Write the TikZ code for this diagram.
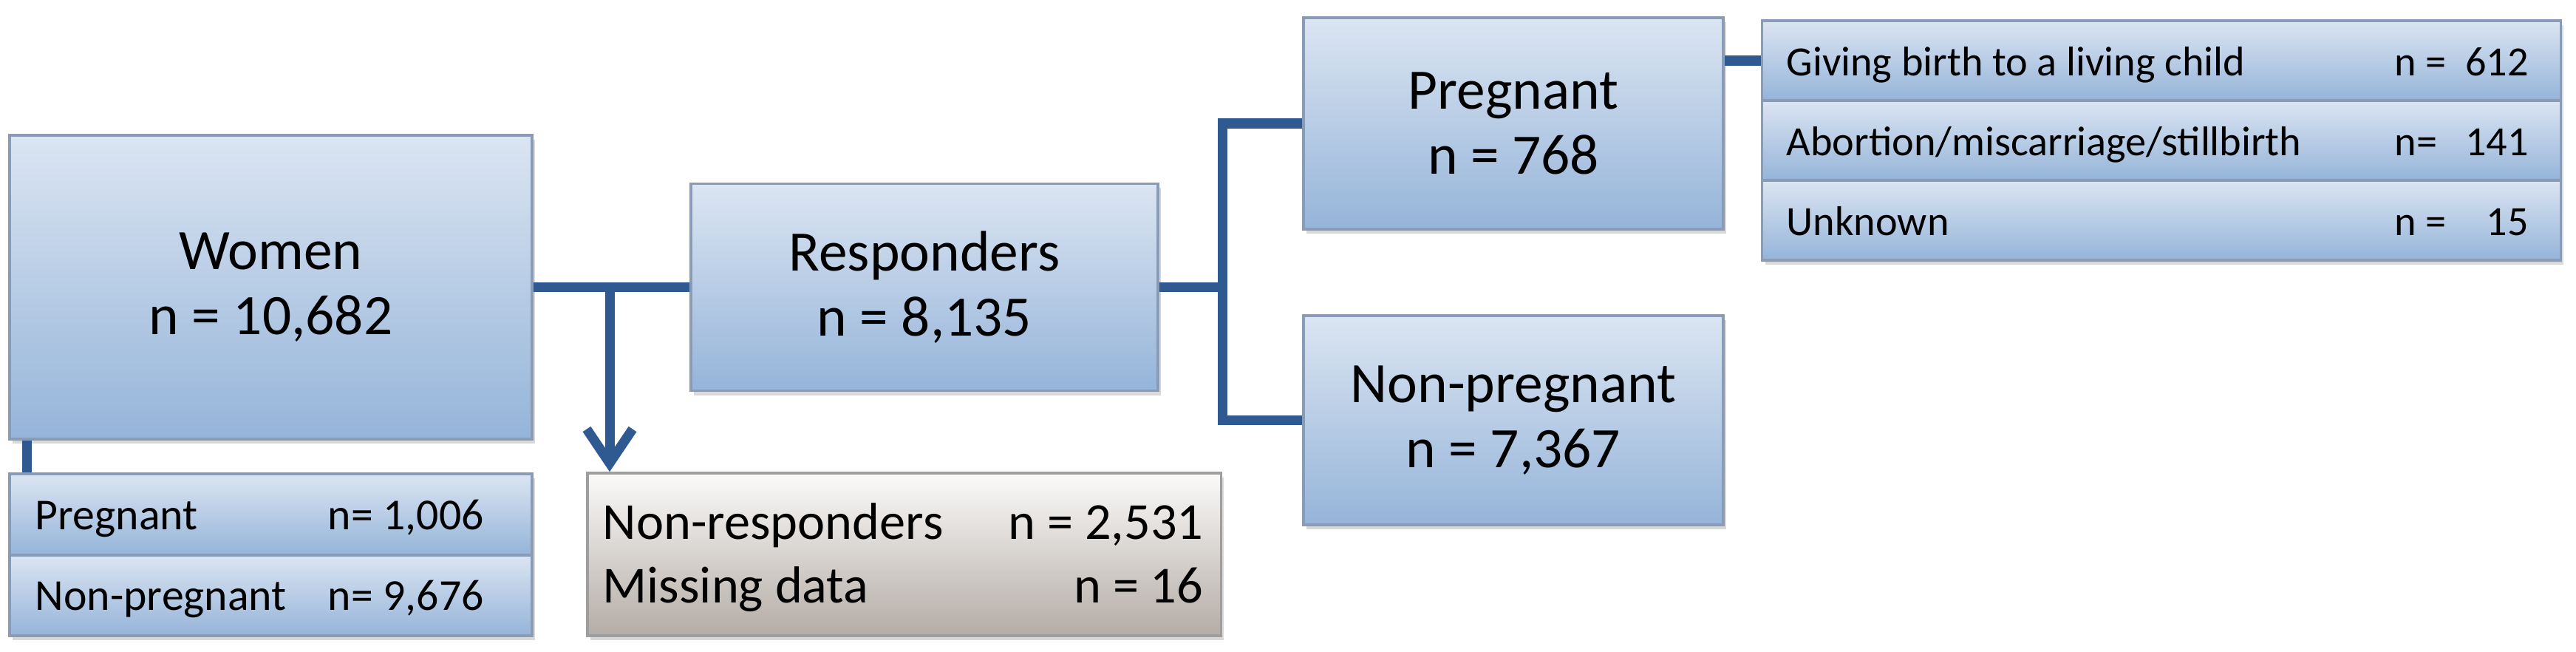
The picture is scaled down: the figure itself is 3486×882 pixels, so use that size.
\documentclass[tikz,border=0pt]{standalone}
\usepackage{fontspec}
\setmainfont{Carlito}
\usepackage{tikz}
\usetikzlibrary{arrows,arrows.meta}
\usetikzlibrary{shadows}
\usetikzlibrary{positioning}

\definecolor{boxtop}{RGB}{219,229,242}
\definecolor{boxbottom}{RGB}{149,180,217}
\definecolor{boxline}{RGB}{136,156,184}
\definecolor{greytop}{RGB}{251,250,249}
\definecolor{greybottom}{RGB}{180,172,166}
\definecolor{greyline}{RGB}{158,158,158}
\definecolor{connblue}{RGB}{46,89,145}

\begin{document}
\begin{tikzpicture}[x=0.01cm,y=-0.01cm,
	bluebox/.style={rectangle,draw=boxline,line width=1pt,top color=boxtop,bottom color=boxbottom,inner sep=0pt,
		drop shadow={shadow xshift=0.04cm,shadow yshift=-0.06cm,opacity=0.3}},
	greybox/.style={bluebox,draw=greyline,top color=greytop,bottom color=greybottom},
	bigtext/.style={font=\fontsize{22}{25}\selectfont,align=center},
	midtext/.style={font=\fontsize{20}{24}\selectfont,inner sep=0pt},
	smalltext/.style={font=\fontsize{17}{20}\selectfont,inner sep=0pt},
	tinytext/.style={font=\fontsize{16}{19}\selectfont,inner sep=0pt},
	conn/.style={draw=connblue,line width=3.7pt},
	connarrow/.style={conn,-{Straight Barb[length=4.6mm,width=6.2mm]}}]
	\useasboundingbox (0,0) rectangle (3486,882);

	% main boxes
	\node[bluebox,bigtext,minimum width=7.07cm,minimum height=4.11cm] (women) at (366.5,388.5) {Women\\n = 10,682};
	\node[bluebox,bigtext,minimum width=6.32cm,minimum height=2.8cm] (resp) at (1251,388.5) {Responders\\n = 8,135};
	\node[bluebox,bigtext,minimum width=5.68cm,minimum height=2.86cm] (preg) at (2048,167) {Pregnant\\n = 768};
	\node[bluebox,bigtext,minimum width=5.68cm,minimum height=2.83cm] (nonpreg) at (2048,568.5) {Non-pregnant\\n = 7,367};

	% women split by pregnancy
	\node[bluebox,minimum width=7.07cm,minimum height=1.1cm] (lowpreg) at (366.5,696) {};
	\node[bluebox,minimum width=7.07cm,minimum height=1.09cm] (lownonpreg) at (366.5,805.5) {};
	\node[smalltext,anchor=base west] (lowpreglab) at ([xshift=0.36cm,yshift=-0.2cm]lowpreg.west) {Pregnant};
	\node[smalltext,anchor=base west] (lowpregn) at ([xshift=4.32cm,yshift=-0.2cm]lowpreg.west) {n= 1,006};
	\node[smalltext,anchor=base west] (lownonpreglab) at ([xshift=0.36cm,yshift=-0.2cm]lownonpreg.west) {Non-pregnant};
	\node[smalltext,anchor=base west] (lownonpregn) at ([xshift=4.32cm,yshift=-0.2cm]lownonpreg.west) {n= 9,676};

	% non-responders
	\node[greybox,minimum width=8.57cm,minimum height=2.2cm] (nonresp) at (1223.5,750) {};
	\node[midtext,anchor=base west] (nonresplab) at ([xshift=0.22cm,yshift=0.2cm]nonresp.west) {Non-responders};
	\node[midtext,anchor=base east] (nonrespn) at ([xshift=-0.25cm,yshift=0.2cm]nonresp.east) {n = 2,531};
	\node[midtext,anchor=base west] (missinglab) at ([xshift=0.22cm,yshift=-0.65cm]nonresp.west) {Missing data};
	\node[midtext,anchor=base east] (missingn) at ([xshift=-0.25cm,yshift=-0.65cm]nonresp.east) {n = 16};

	% pregnancy outcomes
	\node[bluebox,minimum width=10.8cm,minimum height=1.08cm] (outbirth) at (2925,82) {};
	\node[bluebox,minimum width=10.8cm,minimum height=1.08cm] (outabort) at (2925,190) {};
	\node[bluebox,minimum width=10.8cm,minimum height=1.08cm] (outunknown) at (2925,298) {};
	\node[tinytext,anchor=base west] (birthlab) at ([xshift=0.34cm,yshift=-0.2cm]outbirth.west) {Giving birth to a living child};
	\node[tinytext,anchor=base west] (birthn) at ([xshift=-2.27cm,yshift=-0.2cm]outbirth.east) {\makebox[1.81cm][l]{n =\hfill 612}};
	\node[tinytext,anchor=base west] (abortlab) at ([xshift=0.34cm,yshift=-0.2cm]outabort.west) {Abortion/miscarriage/stillbirth};
	\node[tinytext,anchor=base west] (abortn) at ([xshift=-2.27cm,yshift=-0.2cm]outabort.east) {\makebox[1.81cm][l]{n=\hfill 141}};
	\node[tinytext,anchor=base west] (unknownlab) at ([xshift=0.34cm,yshift=-0.2cm]outunknown.west) {Unknown};
	\node[tinytext,anchor=base west] (unknownn) at ([xshift=-2.27cm,yshift=-0.2cm]outunknown.east) {\makebox[1.81cm][l]{n =\hfill 15}};

	% connectors
	\coordinate (fork) at (nonresp.north east |- resp.east);
	\draw[conn] ([xshift=0.25cm]women.south west) -- ([xshift=0.25cm]lowpreg.north west);
	\draw[conn] (women.east) -- (resp.west);
	\draw[connarrow] ([xshift=0.32cm]nonresp.north west |- women.east) -- ([xshift=0.32cm]nonresp.north west);
	\draw[conn] (resp.east) -- (fork);
	\draw[conn] (preg.west) -| (fork) |- (nonpreg.west);
	\draw[conn] (outbirth.west) -- (outbirth.west -| preg.east);
\end{tikzpicture}
\end{document}
